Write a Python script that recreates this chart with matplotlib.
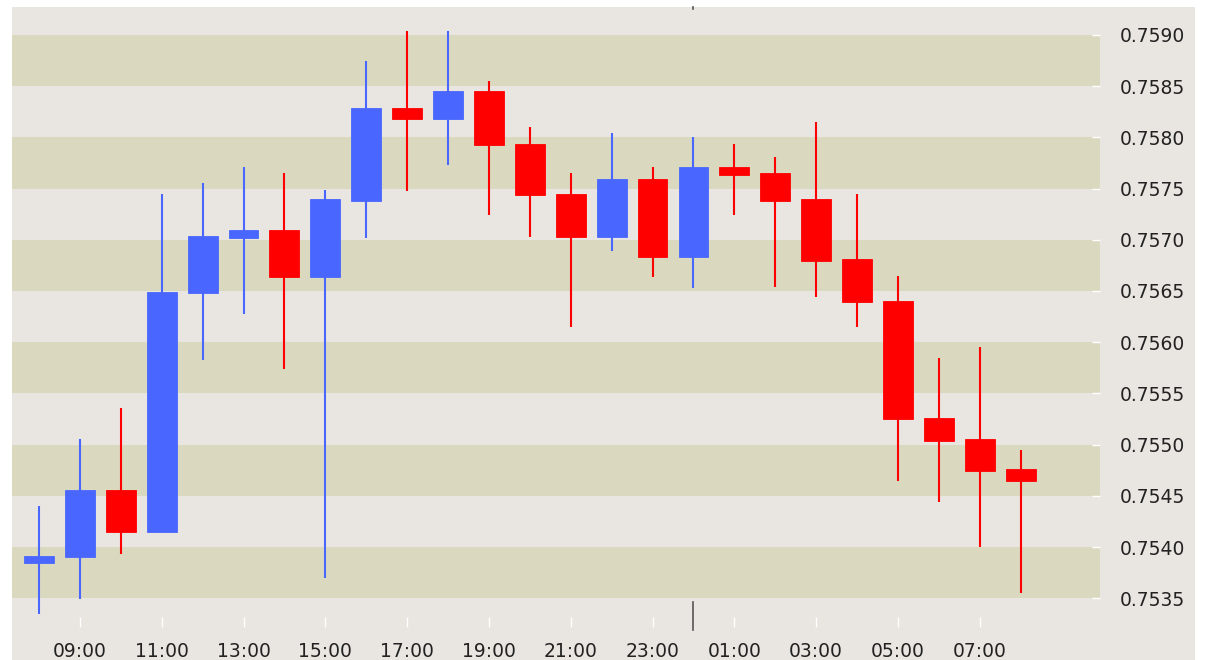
import numpy as np
import matplotlib.pyplot as plt
from matplotlib.patches import Rectangle

# hourly candles, 08:00 .. 08:00 next day
hours = ['08:00', '09:00', '10:00', '11:00', '12:00', '13:00', '14:00', '15:00',
         '16:00', '17:00', '18:00', '19:00', '20:00', '21:00', '22:00', '23:00',
         '00:00', '01:00', '02:00', '03:00', '04:00', '05:00', '06:00', '07:00',
         '08:00']
opens = [0.75384, 0.75390, 0.75456, 0.75415, 0.75648, 0.75702, 0.75710, 0.75664,
         0.75738, 0.75829, 0.75818, 0.75845, 0.75794, 0.75745, 0.75703, 0.75759,
         0.75683, 0.75771, 0.75765, 0.75740, 0.75681, 0.75640, 0.75526, 0.75505,
         0.75476]
highs = [0.75440, 0.75505, 0.75536, 0.75745, 0.75755, 0.75771, 0.75765, 0.75749,
         0.75875, 0.75904, 0.75904, 0.75855, 0.75810, 0.75765, 0.75804, 0.75771,
         0.75800, 0.75794, 0.75781, 0.75815, 0.75745, 0.75665, 0.75585, 0.75595,
         0.75495]
lows = [0.75335, 0.75349, 0.75393, 0.75415, 0.75583, 0.75628, 0.75574, 0.75370,
        0.75702, 0.75748, 0.75773, 0.75724, 0.75703, 0.75615, 0.75689, 0.75664,
        0.75653, 0.75724, 0.75654, 0.75644, 0.75615, 0.75464, 0.75444, 0.75400,
        0.75355]
closes = [0.75391, 0.75456, 0.75415, 0.75649, 0.75704, 0.75710, 0.75664, 0.75740,
          0.75829, 0.75818, 0.75845, 0.75793, 0.75744, 0.75703, 0.75759, 0.75683,
          0.75771, 0.75763, 0.75738, 0.75679, 0.75639, 0.75525, 0.75504, 0.75474,
          0.75464]
yticks = [0.7535, 0.7540, 0.7545, 0.7550, 0.7555, 0.7560, 0.7565, 0.7570,
          0.7575, 0.7580, 0.7585, 0.7590]
day_break = 16

up_col = '#4967ff'
down_col = '#ff0000'
light = '#e9e6e1'
dark = '#dad9c0'

x = np.arange(len(hours))
o = np.array(opens)
c = np.array(closes)
cols = [up_col if cc >= oo else down_col for oo, cc in zip(o, c)]

fig = plt.figure(figsize=(12.05, 6.6), dpi=100)
fig.patch.set_facecolor('white')
fig.patches.append(Rectangle((12 / 1205, 0), 1183 / 1205, 653 / 660,
                             transform=fig.transFigure, facecolor=light,
                             edgecolor='none', zorder=-10))

ax = fig.add_axes([12 / 1205, 1 - 627 / 660, 1088 / 1205, 620 / 660])
ax.set_facecolor(light)
for s in ax.spines.values():
    s.set_visible(False)

# alternating bands
for i in range(0, len(yticks) - 1, 2):
    ax.axhspan(yticks[i], yticks[i + 1], color=dark, lw=0, zorder=0)

ax.vlines(x, lows, highs, colors=cols, lw=1.5, zorder=2)
ax.bar(x, np.abs(c - o), bottom=np.minimum(o, c), width=0.73,
       color=cols, edgecolor=cols, lw=0.6, zorder=3)

# day separator
ax.axvline(day_break, ymin=-0.005, ymax=0.04, color='#555555', lw=1.2, clip_on=False)
ax.axvline(day_break, ymin=0.996, ymax=1.0, color='#555555', lw=1.2, clip_on=False)

ax.set_xlim(-0.66, 25.94)
ax.set_ylim(0.753219, 0.759273)

ax.yaxis.tick_right()
ax.set_yticks(yticks)
ax.set_yticklabels(['%.4f' % v for v in yticks])
ax.set_xticks(x[1::2])
ax.set_xticklabels(hours[1::2])
ax.tick_params(axis='y', direction='in', length=6, width=1, color='white',
               pad=14, labelsize=13.5, labelcolor='#222222')
ax.tick_params(axis='x', direction='in', length=7, width=1, color='white',
               pad=11, labelsize=13.5, labelcolor='#222222')
for t in ax.get_xticklabels() + ax.get_yticklabels():
    t.set_fontfamily('DejaVu Sans')

fig.savefig('out.png', dpi=100, facecolor=fig.get_facecolor())
